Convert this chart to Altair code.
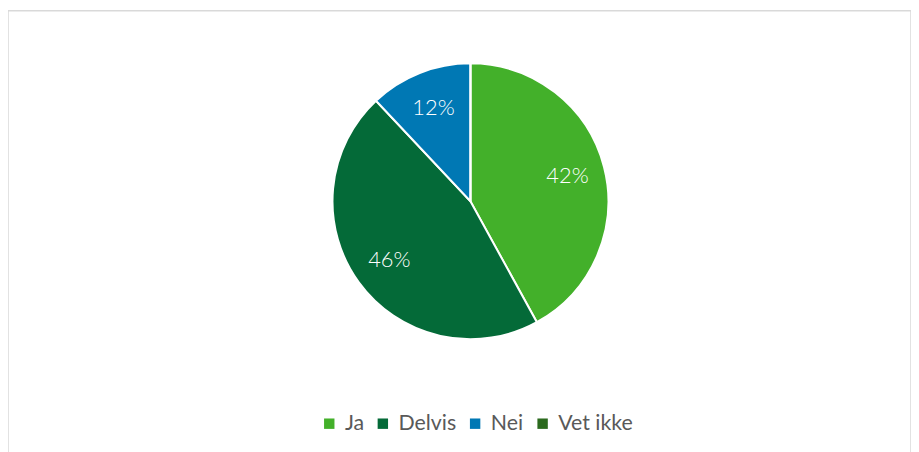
import altair as alt
import pandas as pd

categories = ["Ja", "Delvis", "Nei", "Vet ikke"]
values = [42, 46, 12, 0]
colors = ["#43b02a", "#046a38", "#0078b4", "#2b6a1e"]

df = pd.DataFrame({"kategori": categories, "andel": values, "order": list(range(len(categories)))})
df["label"] = df["andel"].astype(str) + "%"

cx, cy = 466, 192

base = alt.Chart(df).encode(
    theta=alt.Theta("andel:Q", stack=True),
    order=alt.Order("order:Q"),
)

pie = base.mark_arc(outerRadius=139, stroke="white", strokeWidth=2).encode(
    color=alt.Color(
        "kategori:N",
        sort=categories,
        scale=alt.Scale(domain=categories, range=colors),
        legend=alt.Legend(
            title=None,
            orient="none",
            legendX=313,
            legendY=405,
            direction="horizontal",
            symbolType="square",
            symbolSize=110,
            symbolStrokeWidth=0,
            labelFont="Lato",
            labelFontSize=21.5,
            labelColor="#595959",
            labelOffset=5,
            columnPadding=8,
        ),
    ),
    x=alt.value(cx),
    y=alt.value(cy),
)

text = base.mark_text(radius=101, font="Lato", fontSize=22, fontWeight=300, color="white").encode(
    text="label:N",
    x=alt.value(cx),
    y=alt.value(cy),
).transform_filter("datum.andel > 0")

chart = (pie + text).properties(
    width=910,
    height=460,
    autosize="none",
    padding={"left": 0, "top": 1, "right": 0, "bottom": 0},
).configure_view(stroke="#d9d9d9", strokeWidth=1.5)

chart.save("out.html", embed_options={"renderer": "svg", "actions": False})
